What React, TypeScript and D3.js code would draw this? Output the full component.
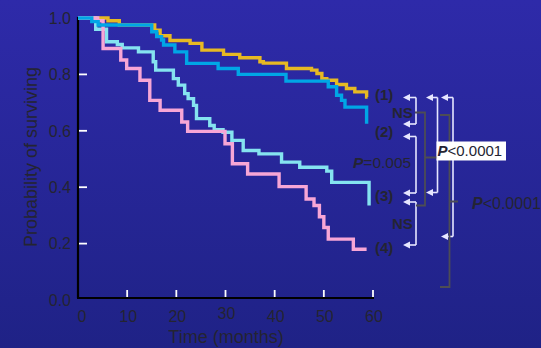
import React, { useEffect, useRef } from "react";
import * as d3 from "d3";

// Kaplan-Meier step data: [time (months), survival]
const group1 = [[0, 1], [6.1, 0.99], [8.4, 0.975], [15.6, 0.957], [16.7, 0.937], [18.7, 0.92], [22.8, 0.91], [25.2, 0.886], [29.6, 0.871], [32.9, 0.859], [37.0, 0.845], [37.7, 0.84], [42.4, 0.821], [47.5, 0.815], [48.6, 0.803], [49.6, 0.785], [50.6, 0.779], [52.6, 0.764], [54.6, 0.75], [56.3, 0.738], [58.7, 0.72], [58.9, 0.72]];
const group2 = [[0, 1], [2.8, 0.987], [4.1, 0.975], [15.0, 0.951], [16.0, 0.934], [17.0, 0.922], [17.4, 0.904], [19.7, 0.88], [22.1, 0.839], [28.5, 0.821], [32.6, 0.8], [42.3, 0.776], [50.9, 0.756], [52.6, 0.726], [53.6, 0.708], [54.3, 0.684], [58.7, 0.625]];
const group3 = [[0, 1], [3.6, 0.96], [5.8, 0.916], [8.0, 0.906], [9.0, 0.894], [12.3, 0.88], [15.3, 0.845], [15.8, 0.815], [19.4, 0.785], [20.4, 0.762], [21.7, 0.732], [22.4, 0.714], [23.5, 0.69], [24.1, 0.643], [26.8, 0.619], [27.7, 0.604], [29.5, 0.595], [31.3, 0.566], [33.6, 0.53], [36.8, 0.518], [41.4, 0.489], [45.1, 0.471], [50.6, 0.457], [51.6, 0.417], [59.2, 0.335]];
const group4 = [[0, 1], [4.0, 0.99], [5.1, 0.892], [8.7, 0.851], [9.9, 0.821], [12.6, 0.779], [14.6, 0.708], [16.7, 0.673], [21.1, 0.631], [22.3, 0.598], [29.9, 0.554], [31.4, 0.483], [34.5, 0.447], [40.9, 0.402], [46.4, 0.358], [48.0, 0.335], [49.1, 0.295], [50.0, 0.257], [50.9, 0.216], [56.0, 0.18], [58.7, 0.18]];

const seriesColors = ["#e7b923", "#00a6e6", "#85e3f0", "#f7a6d6"];
const groupLabels = ["(1)", "(2)", "(3)", "(4)"];
const xTicks = [0, 10, 20, 30, 40, 50, 60];
const yTicks = [0, 0.2, 0.4, 0.6, 0.8, 1.0];

const W = 541, H = 348;
const textColor = "#242432";

const App = () => {
  const svgRef = useRef<SVGSVGElement>(null);

  useEffect(() => {
    const svg = d3.select(svgRef.current);
    svg.selectAll("*").remove();
    const font = "'Liberation Sans', Arial, sans-serif";

    const defs = svg.append("defs");
    const grad = defs.append("linearGradient").attr("id", "bg").attr("x1", 0).attr("y1", 0).attr("x2", 0).attr("y2", 1);
    grad.append("stop").attr("offset", "0%").attr("stop-color", "#2e2aa9");
    grad.append("stop").attr("offset", "100%").attr("stop-color", "#1f2286");
    svg.append("rect").attr("width", W).attr("height", H).attr("fill", "url(#bg)");

    const x = d3.scaleLinear().domain([0, 60]).range([78, 373]);
    const y = d3.scaleLinear().domain([0, 1]).range([300, 18]);

    // axes
    svg.append("line").attr("x1", x(0)).attr("x2", x(0)).attr("y1", y(1) - 1).attr("y2", y(0) - 2)
      .attr("stroke", "#000").attr("stroke-width", 2.2);
    svg.append("line").attr("x1", x(0) - 1).attr("x2", x(60) + 1).attr("y1", y(0) - 2).attr("y2", y(0) - 2)
      .attr("stroke", "#000").attr("stroke-width", 2.2);

    svg.selectAll(".yt").data(yTicks.filter(d => d > 0)).join("line")
      .attr("x1", x(0) + 1).attr("x2", x(0) + 9).attr("y1", d => y(d)).attr("y2", d => y(d))
      .attr("stroke", "#fff").attr("stroke-width", 1.8);
    svg.selectAll(".xt").data(xTicks.filter(d => d > 0)).join("line")
      .attr("x1", d => x(d)).attr("x2", d => x(d)).attr("y1", y(0) - 3).attr("y2", y(0) - 10)
      .attr("stroke", "#fff").attr("stroke-width", 1.8);

    svg.selectAll(".yl").data(yTicks).join("text")
      .attr("x", 71).attr("y", d => y(d)).attr("dy", "0.36em").attr("text-anchor", "end")
      .attr("font-family", font).attr("font-size", 16).attr("fill", textColor)
      .text(d => d.toFixed(1));
    svg.selectAll(".xl").data(xTicks).join("text")
      .attr("x", d => x(d) + (d === 0 ? 4 : 1)).attr("y", d => (d === 30 ? 313 : 316)).attr("dy", "0.36em").attr("text-anchor", "middle")
      .attr("font-family", font).attr("font-size", 16).attr("fill", textColor)
      .text(d => d);

    svg.append("text").attr("x", 226).attr("y", 343).attr("text-anchor", "middle")
      .attr("font-family", font).attr("font-size", 18).attr("fill", textColor).text("Time (months)");
    svg.append("text").attr("transform", "translate(37,157) rotate(-90)").attr("text-anchor", "middle")
      .attr("font-family", font).attr("font-size", 18).attr("fill", textColor).text("Probability of surviving");

    // curves
    const line = d3.line<number[]>().x(d => x(d[0])).y(d => y(d[1])).curve(d3.curveStepAfter);
    const groups = [group1, group3, group4, group2];
    const cols = [seriesColors[0], seriesColors[2], seriesColors[3], seriesColors[1]];
    groups.forEach((g, i) => {
      svg.append("path").attr("d", line(g as any)).attr("fill", "none")
        .attr("stroke", cols[i]).attr("stroke-width", 3.4).attr("stroke-linejoin", "miter");
    });

    // group labels
    const labelY = [95, 132, 196, 248];
    svg.selectAll(".gl").data(groupLabels).join("text")
      .attr("x", 375).attr("y", (d, i) => labelY[i]).attr("dy", "0.36em")
      .attr("font-family", font).attr("font-size", 15).attr("font-weight", "bold").attr("fill", textColor)
      .text(d => d);

    // white comparison brackets
    const white = "#e6e6ff";
    const arrow = (xv: number, tipX: number, yv: number) => {
      svg.append("line").attr("x1", xv).attr("x2", tipX + 4).attr("y1", yv).attr("y2", yv)
        .attr("stroke", white).attr("stroke-width", 1.6);
      svg.append("path").attr("d", `M${tipX},${yv} L${tipX + 7},${yv - 3.5} L${tipX + 7},${yv + 3.5} Z`).attr("fill", white);
    };
    const bracket = (xv: number, tipX: number, y1: number, y2: number) => {
      svg.append("line").attr("x1", xv).attr("x2", xv).attr("y1", y1).attr("y2", y2)
        .attr("stroke", white).attr("stroke-width", 1.6);
      arrow(xv, tipX, y1);
      arrow(xv, tipX, y2);
    };
    bracket(416, 403, 97.5, 124);
    bracket(416, 403, 136.5, 193);
    bracket(416, 403, 202, 245);
    bracket(437.5, 426, 97.5, 192.5);
    bracket(453, 441, 97.5, 236.5);

    // gray braces
    const gray = "#4d4d55";
    svg.append("path").attr("d", "M415,112.5 L425,112.5 L425,157.5 L439,157.5 M425,158.5 L425,205.5 L416,205.5")
      .attr("fill", "none").attr("stroke", gray).attr("stroke-width", 1.8);
    svg.append("path").attr("d", "M440,115 L449.5,115 L449.5,287 L440,287 M449.5,201.5 L458,201.5")
      .attr("fill", "none").attr("stroke", gray).attr("stroke-width", 1.8);

    // p-value box
    svg.append("rect").attr("x", 436.5).attr("y", 141.5).attr("width", 69.5).attr("height", 19).attr("fill", "#fff");
    const pText = (tx: number, ty: number, rest: string, size: number, weight: string) => {
      const t = svg.append("text").attr("x", tx).attr("y", ty).attr("dy", "0.36em")
        .attr("font-family", font).attr("font-size", size).attr("fill", textColor);
      t.append("tspan").attr("font-style", "italic").attr("font-weight", "bold").text("P");
      t.append("tspan").attr("font-weight", weight).text(rest);
    };
    pText(437.5, 151, "<0.0001", 15, "normal");
    pText(472, 203, "<0.0001", 16, "normal");
    pText(353, 162.5, "=0.005", 15.5, "normal");

    svg.append("text").attr("x", 392).attr("y", 112.5).attr("dy", "0.36em")
      .attr("font-family", font).attr("font-size", 15).attr("font-weight", "bold").attr("fill", textColor).text("NS");
    svg.append("text").attr("x", 392).attr("y", 224).attr("dy", "0.36em")
      .attr("font-family", font).attr("font-size", 15).attr("font-weight", "bold").attr("fill", textColor).text("NS");
  }, []);

  return (
    <svg ref={svgRef} width={W} height={H} style={{ position: "absolute", left: 0, top: 0, display: "block" }} />
  );
};

export default App;
